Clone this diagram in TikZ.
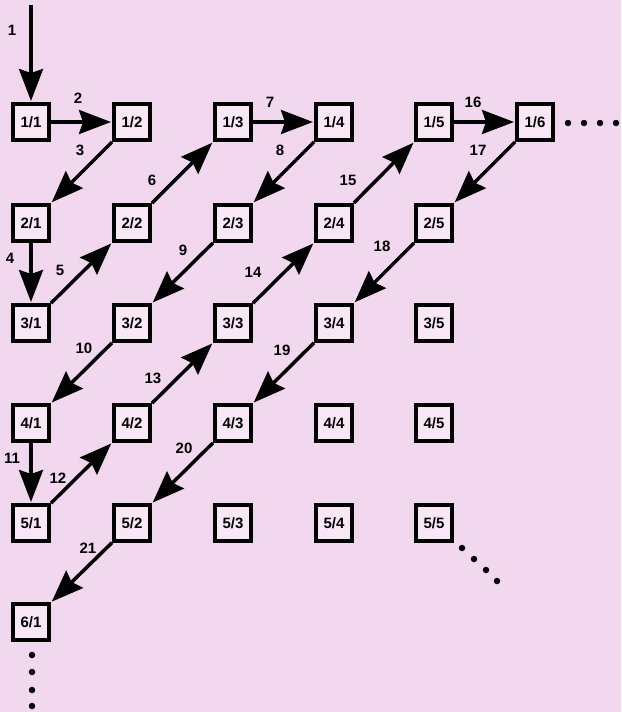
\documentclass[tikz,border=0pt]{standalone}
\usepackage{fontspec}
\setmainfont{Liberation Sans}
\usetikzlibrary{arrows.meta}
\definecolor{paper}{HTML}{F2D8EE}
\definecolor{boxfill}{HTML}{F8E8F5}
\begin{document}
\begin{tikzpicture}[x=1pt,y=-1pt,
  cell/.style={draw=black, line width=4pt, fill=boxfill, minimum size=36pt,
    inner sep=0pt, font=\fontsize{15}{15}\selectfont\bfseries},
  walk/.style={line width=3.5pt, -{Stealth[length=32pt,width=24pt,inset=4pt]}, shorten >=1pt},
  num/.style={font=\fontsize{15}{15}\selectfont\bfseries},
  dot/.style={fill=black, circle, inner sep=0pt, minimum size=6.5pt}]
\fill[paper] (0,0) rectangle (621,712);
\useasboundingbox (0,0) rectangle (621,712);
% grid of fractions p/q
\foreach \p/\y in {1/122,2/223,3/323,4/423,5/523}{
  \foreach \q/\x in {1/31,2/132,3/233,4/334,5/434}{
    \node[cell] (c\p\q) at (\x,\y) {\p/\q};
  }
}
\node[cell] (c16) at (535,122) {1/6};
\node[cell] (c61) at (31,622) {6/1};
\coordinate (start) at (31,5);
% zig-zag enumeration
\draw[walk] (start) -- (c11);
\draw[walk] (c11) -- (c12);
\draw[walk] (c12) -- (c21);
\draw[walk] (c21) -- (c31);
\draw[walk] (c31) -- (c22);
\draw[walk] (c22) -- (c13);
\draw[walk] (c13) -- (c14);
\draw[walk] (c14) -- (c23);
\draw[walk] (c23) -- (c32);
\draw[walk] (c32) -- (c41);
\draw[walk] (c41) -- (c51);
\draw[walk] (c51) -- (c42);
\draw[walk] (c42) -- (c33);
\draw[walk] (c33) -- (c24);
\draw[walk] (c24) -- (c15);
\draw[walk] (c15) -- (c16);
\draw[walk] (c16) -- (c25);
\draw[walk] (c25) -- (c34);
\draw[walk] (c34) -- (c43);
\draw[walk] (c43) -- (c52);
\draw[walk] (c52) -- (c61);
% step numbers
\foreach \n/\x/\y in {1/12/30, 2/78/98, 3/80/150, 4/10/258, 5/60/270, 6/152/180,
  7/270/102, 8/280/150, 9/183/250, 10/84/348, 11/12/458, 12/58/478, 13/153/378,
  14/253/272, 15/348/180, 16/473/102, 17/478/150, 18/382/246, 19/282/350,
  20/184/448, 21/88/548}{
  \node[num] (n\n) at (\x,\y) {\n};
}
% continuation dots
\foreach \i/\x in {1/568,2/584,3/600,4/616}{\node[dot] (r\i) at (\x,123) {};}
\foreach \i/\y in {1/655,2/672,3/690,4/706}{\node[dot] (d\i) at (32,\y) {};}
\foreach \i/\x/\y in {1/462/548,2/474/559,3/486/570,4/497/581}{\node[dot] (g\i) at (\x,\y) {};}
\end{tikzpicture}
\end{document}
